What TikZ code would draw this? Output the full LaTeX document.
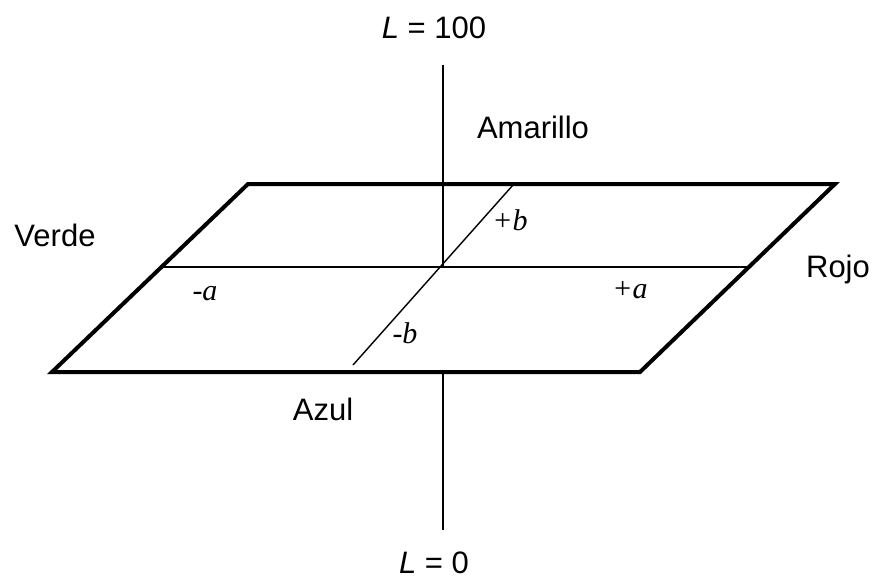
\documentclass[tikz,border=0pt]{standalone}
\usepackage{fontspec}
\setmainfont{Liberation Sans}
\newfontfamily\serifit{Liberation Serif}
\tikzset{
  thickedge/.style={line width=4pt, line join=miter},
  thinline/.style={line width=1.4pt},
  lab/.style={font=\fontsize{31}{35}\selectfont, inner sep=0pt, anchor=base},
  axlab/.style={font=\serifit\fontsize{30}{34}\selectfont\itshape, inner sep=0pt, anchor=base},
}
\begin{document}
\begin{tikzpicture}[x=1pt,y=-1pt]
\useasboundingbox (0,0) rectangle (873,582);
% corners of plane
\coordinate (tl) at (248,184);
\coordinate (tr) at (835,184);
\coordinate (br) at (640,372);
\coordinate (bl) at (52,372);
\coordinate (o) at (443,267);
\coordinate (aL) at (162,267);
\coordinate (aR) at (748,267);
\coordinate (bT) at (513,185);
\coordinate (bB) at (353,365);
\coordinate (Ltop) at (443,65);
\coordinate (Lbot) at (443,530);
\coordinate (Lmid) at (443,372);
% axes
\draw[thinline] (Ltop) -- (o);
\draw[thinline] (Lmid) -- (Lbot);
\draw[thinline] (aL) -- (aR);
\draw[thinline] (bT) -- (bB);
% plane
\draw[thickedge] (tl) -- (tr) -- (br) -- (bl) -- cycle;
% labels
\node[lab] (l100) at (434,38) {\textit{L} = 100};
\node[lab] (l0) at (434,573) {\textit{L} = 0};
\node[lab] (am) at (533,138) {Amarillo};
\node[lab] (ve) at (55,246) {Verde};
\node[lab] (ro) at (838,277) {Rojo};
\node[lab] (az) at (323,420) {Azul};
\node[axlab] (pb) at (510,230) {+b};
\node[axlab] (mb) at (405,343) {-b};
\node[axlab] (ma) at (205,300) {-a};
\node[axlab] (pa) at (630,298) {+a};
\end{tikzpicture}
\end{document}
